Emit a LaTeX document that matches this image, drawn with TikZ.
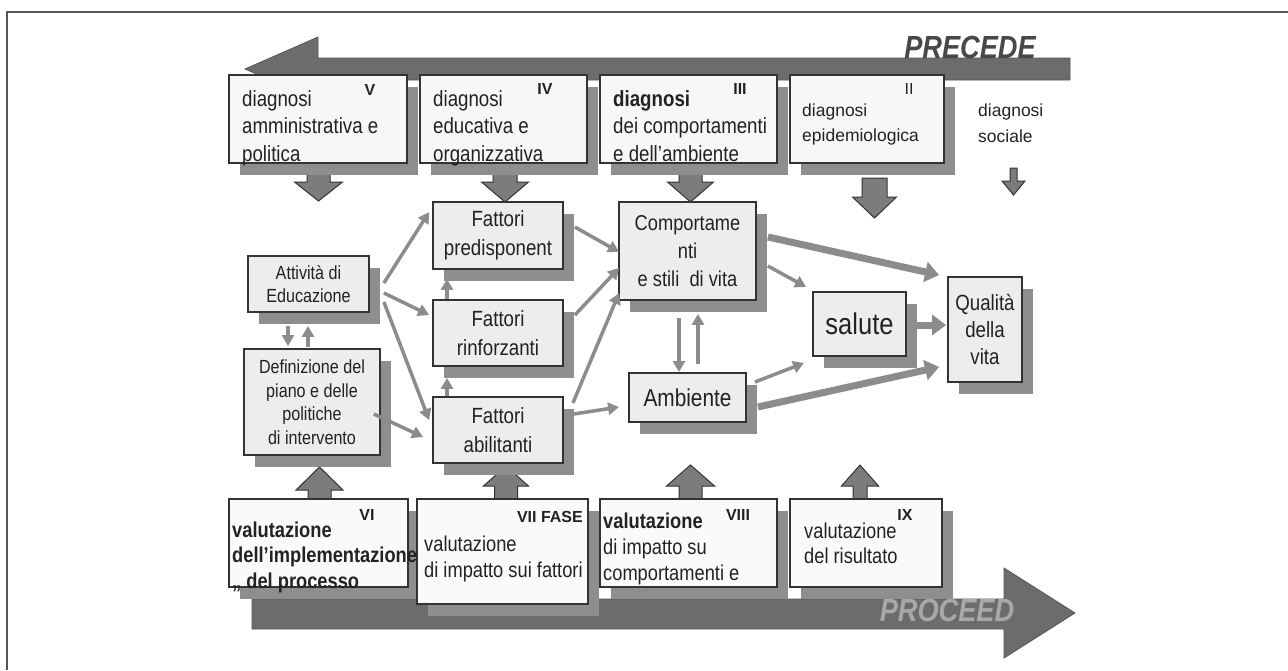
\documentclass[tikz,border=0pt]{standalone}
\usepackage{fontspec}
\setmainfont{Liberation Sans}[FakeStretch=0.85]
\newfontfamily\plainsans{Liberation Sans}
\usetikzlibrary{arrows.meta,calc,shadows}
\definecolor{shgray}{HTML}{8E8E8E}
\definecolor{bandgray}{HTML}{6C6C6C}
\definecolor{blkgray}{HTML}{7C7C7C}
\definecolor{congray}{HTML}{8C8C8C}
\definecolor{txt}{HTML}{222222}
\definecolor{edge}{HTML}{333333}
\definecolor{frame}{HTML}{555555}
\definecolor{topfill}{HTML}{F7F7F7}
\definecolor{midfill}{HTML}{EDEDED}
\definecolor{botfill}{HTML}{FAFAFA}
\definecolor{precfill}{HTML}{484848}
\definecolor{procfill}{HTML}{A8A8A8}
\tikzset{
 box/.style={draw=edge, line width=1.8pt, rectangle, inner sep=0pt,
   drop shadow={shadow xshift=11pt, shadow yshift=-12pt, fill=shgray, opacity=1},
   text=txt, align=center},
 topbox/.style={box, fill=topfill},
 midbox/.style={box, fill=midfill},
 botbox/.style={box, fill=botfill},
 lbl/.style={inner sep=0pt, text=txt, font=\plainsans\fontsize{16}{18}\selectfont\bfseries},
 txtl/.style={inner sep=0pt, text=txt, align=left, anchor=base west},
 con/.style={draw=congray, line width=3.5pt, -{Triangle[length=11pt,width=12pt]}},
 thickcon/.style={draw=congray, line width=7pt, -{Triangle[length=14pt,width=20pt]}},
 blk/.style={fill=blkgray, draw=edge, line width=1pt, line join=miter},
 band/.style={fill=bandgray, draw=bandgray!80!black, line width=0.8pt},
 bigtxt/.style={inner sep=0pt, font=\fontsize{32}{32}\selectfont\bfseries\itshape},
}
\newcommand{\blkarrow}[6]{%
 \draw[blk] ({#1-#5},#2) -- ({#1-#5},#3) -- ({#1-#6},#3) -- (#1,#4) -- ({#1+#6},#3) -- ({#1+#5},#3) -- ({#1+#5},#2) -- cycle;}
\begin{document}
\begin{tikzpicture}[x=1pt,y=-1pt]
\useasboundingbox (0,0) rectangle (1288,670);
% frame
\draw[line width=1.5pt, draw=frame] (7,670) -- (7,12) -- (1288,12);
% bands
\draw[band] (245,69) -- (318,37) -- (318,58) -- (1070,58) -- (1070,80) -- (318,80) -- (318,101) -- cycle;
\draw[band] (252,599) -- (1004,599) -- (1004,568) -- (1075,613) -- (1004,658) -- (1004,629) -- (252,629) -- cycle;
% block arrows (down)
\blkarrow{318.5}{165}{182}{201}{11.5}{24}
\blkarrow{505}{165}{182}{202}{12}{23.5}
\blkarrow{690.5}{165}{182}{202}{11.5}{23}
\blkarrow{874.5}{178}{197}{218}{12.5}{22}
\blkarrow{1013.5}{168}{181}{195}{3.5}{11.5}
% block arrows (up)
\blkarrow{319.5}{505}{490}{467}{11.5}{23.5}
\blkarrow{506}{505}{486}{466}{11.5}{22.5}
\blkarrow{690.5}{505}{486}{465}{11.5}{24}
\blkarrow{860}{505}{486}{465}{7}{18.5}
% top boxes
\node[topbox, minimum width=178pt, minimum height=88pt] (V) at (318,119) {};
\node[topbox, minimum width=167pt, minimum height=88pt] (IV) at (503.5,119) {};
\node[topbox, minimum width=177pt, minimum height=88pt] (III) at (688.5,119) {};
\node[topbox, minimum width=154pt, minimum height=88pt] (II) at (867,119) {};
\node[txtl, font=\fontsize{22}{27.5}\selectfont] (tV) at (242,161) {diagnosi\\amministrativa e\\politica};
\node[txtl, font=\fontsize{22}{27.5}\selectfont] (tIV) at (433,161) {diagnosi\\educativa e\\organizzativa};
\node[txtl, font=\fontsize{22}{27.5}\selectfont] (tIII) at (613,161) {\bfseries diagnosi\\dei comportamenti\\e dell’ambiente};
\node[txtl, font=\plainsans\fontsize{17.5}{25}\selectfont] (tII) at (802,141) {diagnosi\\epidemiologica};
\node[txtl, font=\plainsans\fontsize{17.5}{26}\selectfont] (tI) at (978,142) {diagnosi\\sociale};
\node[lbl] (lV) at (370,90) {V};
\node[lbl] (lIV) at (545,89) {IV};
\node[lbl] (lIII) at (740,89) {III};
\node[lbl, font=\plainsans\fontsize{16}{18}\selectfont] (lII) at (909,89) {II};
% middle boxes
\node[midbox, minimum width=121pt, minimum height=56pt, font=\fontsize{19}{23}\selectfont] (att) at (308.5,284) {Attività di\\Educazione};
\node[midbox, minimum width=136pt, minimum height=106pt, font=\fontsize{19}{23.5}\selectfont] (def) at (312,402) {Definizione del\\piano e delle\\politiche\\di intervento};
\node[midbox, minimum width=130pt, minimum height=67pt, font=\fontsize{22}{28.5}\selectfont] (fp) at (498,235.5) {Fattori\\predisponent};
\node[midbox, minimum width=130pt, minimum height=66pt, font=\fontsize{22}{28.5}\selectfont] (fr) at (498,333) {Fattori\\rinforzanti};
\node[midbox, minimum width=130pt, minimum height=66pt, font=\fontsize{22}{28.5}\selectfont] (fa) at (498,430) {Fattori\\abilitanti};
\node[midbox, minimum width=137pt, minimum height=98pt, font=\fontsize{21.5}{28}\selectfont] (comp) at (687.5,251) {Comportame\\nti\\e stili\ \ di vita};
\node[midbox, minimum width=117pt, minimum height=49pt, font=\fontsize{24.5}{28}\selectfont] (amb) at (687.5,397.5) {Ambiente};
\node[midbox, minimum width=93pt, minimum height=64pt, font=\fontsize{30}{34}\selectfont] (sal) at (859.5,324) {salute};
\node[midbox, minimum width=74pt, minimum height=105pt, font=\fontsize{22}{27}\selectfont] (qual) at (985,329.5) {Qualità\\della\\vita};
% bottom boxes
\node[botbox, minimum width=179pt, minimum height=88pt] (VI) at (318.5,543) {};
\node[botbox, minimum width=171pt, minimum height=105pt] (VII) at (502.5,551.5) {};
\node[botbox, minimum width=177pt, minimum height=88pt] (VIII) at (688.5,543) {};
\node[botbox, minimum width=152pt, minimum height=88pt] (IX) at (866,543) {};
\node[txtl, font=\fontsize{21.5}{25.5}\selectfont\bfseries] (tVI) at (232,588) {valutazione\\dell’implementazione\\„ del processo};
\node[txtl, font=\fontsize{21.5}{26}\selectfont] (tVII) at (424,577) {valutazione\\di impatto sui fattori};
\node[txtl, font=\fontsize{21.5}{26}\selectfont] (tVIII) at (603,580) {\bfseries valutazione\\di impatto su\\comportamenti e};
\node[txtl, font=\fontsize{21.5}{25.5}\selectfont] (tIX) at (804,563.5) {valutazione\\del risultato};
\node[lbl] (lVI) at (367,515) {VI};
\node[lbl, anchor=east] (lVII) at (583,517) {VII FASE};
\node[lbl] (lVIII) at (738,515) {VIII};
\node[lbl] (lIX) at (905,515) {IX};
% connectors
\draw[con] ($(att.east)+(14,-1)$) -- ($(fp.west)+(-3,-23.5)$);
\draw[con] ($(att.east)+(14,9)$) -- ($(fr.west)+(-3,-18)$);
\draw[con] ($(att.east)+(14,18)$) -- ($(fa.west)+(-3,-10)$);
\draw[con] ($(def.east)+(-7,12)$) -- ($(fa.west)+(-9,7)$);
\draw[con] ($(att.south)+(-20.5,13)$) -- ($(def.north)+(-24,-2)$);
\draw[con] ($(def.north)+(-4,-1)$) -- ($(att.south)+(-0.5,13)$);
\draw[con] ($(fr.north)+(-51,0)$) -- ($(fp.south)+(-51,9)$);
\draw[con] ($(fa.north)+(-51,0)$) -- ($(fr.south)+(-51,11)$);
\draw[con] ($(fp.east)+(11,-8.5)$) -- ($(comp.west)+(1,1)$);
\draw[con] ($(fr.east)+(11,-18)$) -- ($(comp.west)+(1,17)$);
\draw[con] ($(fa.east)+(9,-27)$) -- ($(comp.west)+(1,42)$);
\draw[con] ($(fa.east)+(10,-16)$) -- ($(amb.west)+(-9,9.5)$);
\draw[con] ($(comp.south)+(-8.5,17)$) -- ($(amb.north)+(-8.5,0)$);
\draw[con] ($(amb.north)+(10.5,-8)$) -- ($(comp.south)+(10.5,13)$);
\draw[thickcon] ($(comp.east)+(11,-14)$) -- ($(qual.west)+(-8,-54.5)$);
\draw[con] ($(comp.east)+(11,15)$) -- ($(sal.west)+(-6,-37)$);
\draw[thickcon] ($(sal.east)+(10,1)$) -- ($(qual.west)+(-1,-4.5)$);
\draw[con] ($(amb.east)+(8,-15.5)$) -- ($(sal.west)+(-8,39)$);
\draw[thickcon] ($(amb.east)+(11,9.5)$) -- ($(qual.west)+(-8,37.5)$);
% PRECEDE / PROCEED titles
\node[bigtxt, text=precfill] (pre) at (970,47) {PRECEDE};
\node[bigtxt, text=procfill] (pro) at (947,610) {PROCEED};
\end{tikzpicture}
\end{document}
